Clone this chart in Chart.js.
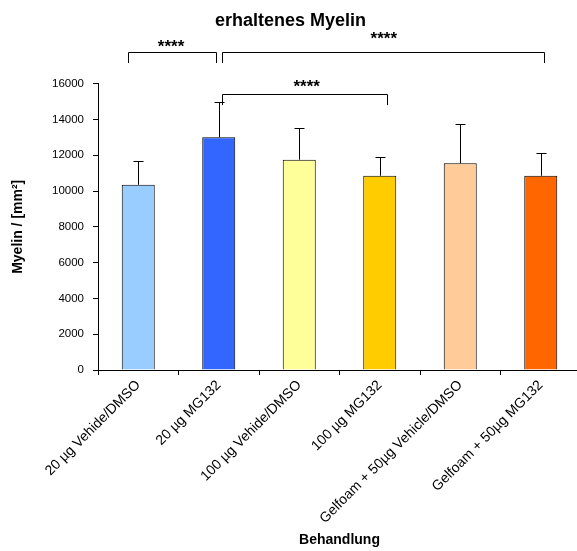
<!DOCTYPE html>
<html>
<head>
<meta charset="utf-8">
<script src="https://cdn.jsdelivr.net/npm/chart.js@4.4.0/dist/chart.umd.min.js"></script>
<style>
    html, body { margin: 0; padding: 0; background: #fff; overflow: hidden; }
    #wrap { width: 590px; height: 551px; }
</style>
</head>
<body>
<div id="wrap"><canvas id="myelin-chart"></canvas></div>
<script>
const categories = [
    '20 µg Vehide/DMSO',
    '20 µg MG132',
    '100 µg Vehide/DMSO',
    '100 µg MG132',
    'Gelfoam + 50µg Vehicle/DMSO',
    'Gelfoam + 50µg MG132'
];
const means = [10350, 13000, 11750, 10850, 11550, 10850];
const errorsUp = [1300, 1950, 1750, 1050, 2200, 1250];
const barColors = ['#99CCFF', '#3366FF', '#FFFF99', '#FFCC00', '#FFCC99', '#FF6600'];
const yTicks = [0, 2000, 4000, 6000, 8000, 10000, 12000, 14000, 16000];

// significance brackets (category index / value units)
const sigFrom = [-0.125, 1.045, 1.045];
const sigTo = [0.97, 5.04, 3.09];
const sigTop = [17750, 17750, 15420];
const sigLeg = [17150, 17150, 14800];
const sigTextX = [0.407, 3.05, 2.093];
const sigTextY = [18310, 18780, 16073];
const sigText = ['****', '****', '****'];

const FONT = 'Arial, "Liberation Sans", sans-serif';

const extras = {
    id: 'extras',
    afterDatasetsDraw(chart) {
        const ctx = chart.ctx;
        const x = chart.scales.x;
        const y = chart.scales.y;
        ctx.save();
        ctx.strokeStyle = '#000';
        ctx.lineWidth = 1;

        // error bars (upper only)
        means.forEach((m, i) => {
            const px = Math.round(x.getPixelForValue(i)) + 0.5;
            const y0 = y.getPixelForValue(m);
            const y1 = Math.round(y.getPixelForValue(m + errorsUp[i])) + 0.5;
            ctx.beginPath();
            ctx.moveTo(px, y0);
            ctx.lineTo(px, y1);
            ctx.moveTo(px - 5, y1);
            ctx.lineTo(px + 5, y1);
            ctx.stroke();
        });

        // brackets
        sigFrom.forEach((f, i) => {
            const xa = Math.round(x.getPixelForValue(f)) + 0.5;
            const xb = Math.round(x.getPixelForValue(sigTo[i])) + 0.5;
            const yt = Math.round(y.getPixelForValue(sigTop[i])) + 0.5;
            const yl = y.getPixelForValue(sigLeg[i]);
            ctx.beginPath();
            ctx.moveTo(xa, yl);
            ctx.lineTo(xa, yt);
            ctx.lineTo(xb, yt);
            ctx.lineTo(xb, yl);
            ctx.stroke();
        });

        ctx.fillStyle = '#000';
        ctx.font = 'bold 17px ' + FONT;
        ctx.textAlign = 'center';
        ctx.textBaseline = 'alphabetic';
        sigText.forEach((t, i) => {
            ctx.fillText(t, x.getPixelForValue(sigTextX[i]), y.getPixelForValue(sigTextY[i]) + 10);
        });
        ctx.restore();
    }
};

new Chart(document.getElementById('myelin-chart'), {
    type: 'bar',
    data: {
        labels: categories,
        datasets: [{
            data: means,
            backgroundColor: barColors,
            borderColor: '#000',
            borderWidth: 1,
            barPercentage: 0.41,
            categoryPercentage: 1.0
        }]
    },
    options: {
        responsive: true,
        maintainAspectRatio: false,
        animation: false,
        layout: { padding: { left: 0, right: 9, top: 0, bottom: 0 } },
        plugins: {
            legend: { display: false },
            tooltip: { enabled: false },
            title: {
                display: true,
                text: 'erhaltenes Myelin',
                color: '#000',
                font: { family: FONT, size: 18, weight: 'bold' },
                padding: { top: 10, bottom: 52 }
            }
        },
        scales: {
            x: {
                grid: { offset: true, drawOnChartArea: false, tickLength: 5, color: '#000' },
                border: { color: '#000', width: 1 },
                ticks: {
                    autoSkip: false,
                    minRotation: 45,
                    maxRotation: 45,
                    color: '#000',
                    padding: 2,
                    font: { family: FONT, size: 14 }
                },
                title: {
                    display: true,
                    text: 'Behandlung',
                    color: '#000',
                    font: { family: FONT, size: 14, weight: 'bold' },
                    padding: { top: 4, bottom: 2 }
                },
                afterFit(scale) { scale.height = 181; }
            },
            y: {
                min: 0,
                max: 16000,
                grid: { drawOnChartArea: false, tickLength: 5, color: '#000' },
                border: { color: '#000', width: 1 },
                afterBuildTicks(scale) { scale.ticks = yTicks.map(v => ({ value: v })); },
                ticks: {
                    color: '#000',
                    padding: 9,
                    font: { family: FONT, size: 11.5 },
                    callback: (v) => String(v)
                },
                title: {
                    display: true,
                    text: 'Myelin / [mm²]',
                    color: '#000',
                    font: { family: FONT, size: 14, weight: 'bold' },
                    padding: { top: 10, bottom: 0 }
                },
                afterFit(scale) { scale.width = 98; }
            }
        }
    },
    plugins: [extras]
});
</script>
</body>
</html>
